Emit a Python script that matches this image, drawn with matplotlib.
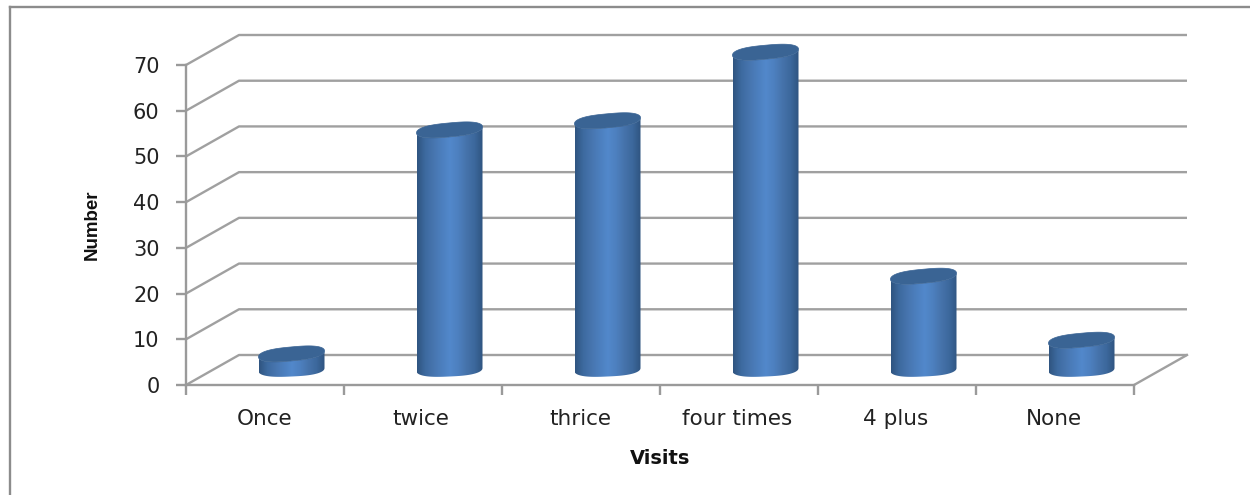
import numpy as np
import matplotlib
matplotlib.use("Agg")
import matplotlib.pyplot as plt
from matplotlib.colors import LinearSegmentedColormap
from matplotlib.lines import Line2D
from matplotlib.patches import Polygon

categories = ["Once", "twice", "thrice", "four times", "4 plus", "None"]
values = [4, 53, 55, 70, 21, 7]
y_ticks = [0, 10, 20, 30, 40, 50, 60, 70]

W, H = 1250, 495
fig = plt.figure(figsize=(W / 100, H / 100), dpi=100, facecolor="white")
L, R, B, T = 186, 1134, 385, 65
n = len(categories)
px = (R - L) / n
py = (B - T) / 70
YTOP = 78
ax = fig.add_axes([L / W, (H - B) / H, (R - L) / W, YTOP * py / H])
ax.patch.set_alpha(0)

DX, DY = 53 / px, 30 / py
GRID = "#a0a0a0"
AXC = "#9a9a9a"

# back wall gridlines and side wall
for v in y_ticks:
    ax.plot([0, DX, n + DX], [v, v + DY, v + DY], color=GRID, lw=1.7,
            clip_on=False, zorder=1, solid_capstyle="butt")
ax.plot([n, n + DX], [0, DY], color=GRID, lw=1.7, clip_on=False, zorder=1)

# cylinders
cmap = LinearSegmentedColormap.from_list(
    "cyl", ["#2f5480", "#3d6a9f", "#4775af", "#4c7fbe", "#5288cb", "#4d80bf",
            "#4673ab", "#3c689c", "#2f5480"])
grad = np.linspace(0, 1, 256).reshape(1, -1)
half = 33 / px
semi = 7 / py
tilt_top = 3 / py
tilt_base = 1.5 / py
base_c = 15.5 / py    # centre of the floor ellipse above the axis line
top_c = 12.8 / py     # where a value of zero would put the top ellipse
t = np.linspace(0, 2 * np.pi, 241)
POW = 0.72
cx = np.sign(np.cos(t)) * np.abs(np.cos(t)) ** POW
sy = np.sign(np.sin(t)) * np.abs(np.sin(t)) ** 0.9
up = t <= np.pi
for i, v in enumerate(values):
    c = i + 0.5 + DX / 2
    top = top_c + v
    xe = c + half * cx
    ye = top + semi * sy + tilt_top * cx
    xl = xe[~up]
    yl = base_c + semi * sy[~up] + tilt_base * cx[~up]
    xu = xe[up]
    yu = top - semi * sy[up] + tilt_top * cx[up]
    body = Polygon(np.column_stack([np.r_[xl, xu], np.r_[yl, yu]]),
                   closed=True, fc="none", ec="none", transform=ax.transData)
    ax.add_patch(body)
    im = ax.imshow(grad, cmap=cmap, extent=[c - half, c + half, 0, YTOP],
                   aspect="auto", zorder=3)
    im.set_clip_path(body)
    ax.add_patch(Polygon(np.column_stack([xe, ye]), closed=True,
                         fc="#3a6494", ec="#3a6494", lw=0.5, zorder=4, clip_on=False))
ax.set_xlim(0, n)
ax.set_ylim(0, YTOP)

# axes
for s in ["top", "right"]:
    ax.spines[s].set_visible(False)
for s in ["left", "bottom"]:
    ax.spines[s].set_color(AXC)
    ax.spines[s].set_linewidth(1.7)
ax.spines["left"].set_bounds(0, 70)
ax.set_yticks(y_ticks)
ax.set_xticks(range(n + 1))
ax.set_xticklabels([])
ax.tick_params(axis="y", direction="out", length=7, width=1.7, color=AXC,
               labelsize=15, labelcolor="#222222", pad=12)
ax.tick_params(axis="x", direction="out", length=7, width=1.7, color=AXC)
label_x = [264.5, 421, 580, 737, 896, 1054]
for i, name in enumerate(categories):
    fig.text(label_x[i] / W, 1 - 419 / H, name, ha="center", va="center",
             fontsize=15.5, color="#222222")
fig.text(660 / W, 1 - 459 / H, "Visits", ha="center", va="center", fontsize=14,
         fontweight="bold", color="#111111")
fig.text(92 / W, 1 - 225 / H, "Number", ha="center", va="center", rotation=90,
         fontsize=13.5, fontweight="bold", color="#111111",
         family=["Liberation Sans Narrow", "Liberation Sans"])

# outer frame: only left and top edges show in the crop
frame = "#8c8c8c"
fig.add_artist(Line2D([10 / W, 10 / W], [0, 1 - 7 / H], color=frame, lw=1.7,
                      transform=fig.transFigure))
fig.add_artist(Line2D([10 / W, 1], [1 - 7 / H, 1 - 7 / H], color=frame, lw=1.7,
                      transform=fig.transFigure))
fig.savefig("out.png", dpi=100)
